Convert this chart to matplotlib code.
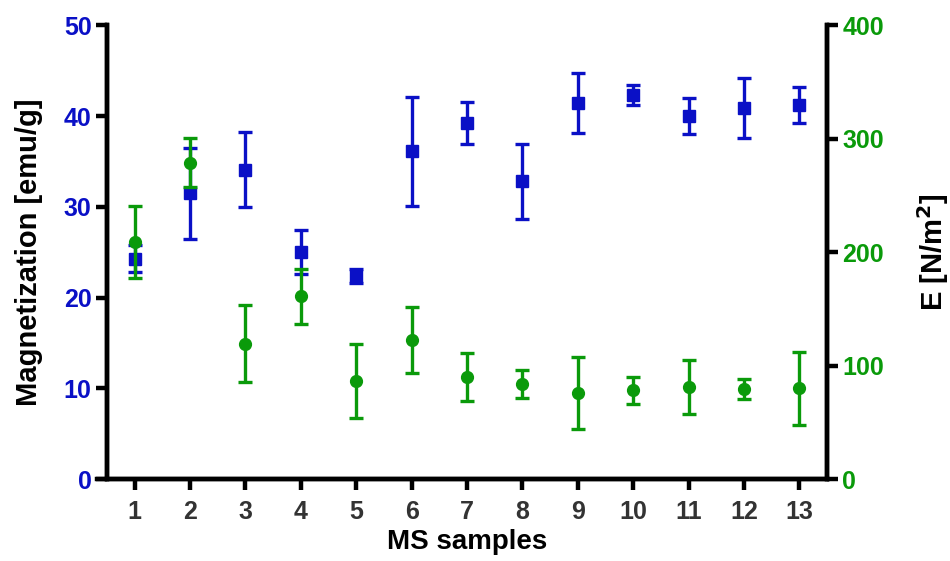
import matplotlib.pyplot as plt
import numpy as np

plt.rcParams['font.family'] = ['Liberation Sans', 'DejaVu Sans']
plt.rcParams['font.weight'] = 'bold'

# Daten
samples = np.arange(1, 14)
magn = [24.3, 31.5, 34.1, 25.0, 22.4, 36.1, 39.2, 32.8, 41.4, 42.3, 40.0, 40.9, 41.2]
magn_err = [1.5, 5.0, 4.1, 2.4, 0.8, 6.0, 2.3, 4.1, 3.3, 1.1, 2.0, 3.3, 2.0]
E = [209, 279, 119.5, 161, 86.5, 122.5, 90, 83.7, 75.8, 78.4, 81, 79.3, 80]
E_err = [32, 22, 34, 24, 33, 29, 21, 12.5, 32, 12, 24, 8.5, 32]

BLUE = '#0a10c6'
GREEN = '#0a9a0a'

fig = plt.figure(figsize=(9.5, 5.61), dpi=100)
ax = fig.add_axes([0.1126, 0.146, 0.758, 0.809])
ax2 = ax.twinx()

ax2.errorbar(samples, E, yerr=E_err, fmt='o', color=GREEN, markersize=8.5,
             elinewidth=2.4, capsize=5, capthick=2.4)
ax.errorbar(samples, magn, yerr=magn_err, fmt='s', color=BLUE, markersize=8.5,
            elinewidth=2.4, capsize=5, capthick=2.4, zorder=3)

ax.set_xlim(0.5, 13.5)
ax.set_ylim(0, 50)
ax2.set_ylim(0, 400)
ax.set_xticks(samples)
ax.set_yticks(np.arange(0, 51, 10))
ax2.set_yticks(np.arange(0, 401, 100))

for a in (ax, ax2):
    for s in a.spines.values():
        s.set_linewidth(3.2)
    a.spines['top'].set_visible(False)
    a.tick_params(width=3.2, length=8)
# x-Achse links bis zum Ende der Ticks verlängern (GraphPad-Stil)
ax.spines['bottom'].set_bounds(0.5 - 10 / 55.4, 13.5)

ax.tick_params(axis='x', labelsize=18, labelcolor='#333333', pad=7)
ax.tick_params(axis='y', labelsize=18, labelcolor=BLUE, pad=3)
ax2.tick_params(axis='y', labelsize=18, labelcolor=GREEN, pad=3)

ax.set_xlabel('MS samples', fontsize=20, fontweight='bold', labelpad=4)
ax.set_ylabel('Magnetization [emu/g]', fontsize=21, fontweight='bold', labelpad=15)
ax2.set_ylabel('E [N/m$^\\mathbf{2}$]', fontsize=21, fontweight='bold', labelpad=22)

fig.savefig('out.png', dpi=100)
